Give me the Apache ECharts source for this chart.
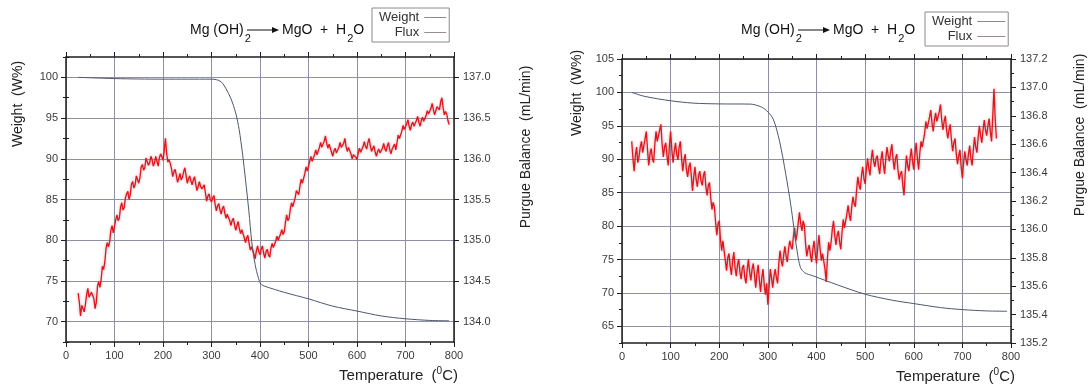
<!DOCTYPE html>
<html>
<head>
<meta charset="utf-8">
<script src="https://cdn.jsdelivr.net/npm/echarts@6/dist/echarts.min.js"></script>
<style>
  html, body { margin: 0; padding: 0; background: #fff; }
  #main { width: 1089px; height: 391px; }
</style>
</head>
<body>
<div id="main"></div>
<script>
// ---- data ----

// left panel: weight (W%) vs temperature
const weightAT = [25, 50, 100, 150, 200, 250, 300, 310, 320, 330, 340, 350, 357, 364, 370, 377, 383, 390, 397, 402, 410, 450, 500, 550, 600, 650, 700, 750, 790];
const weightAV = [100.0, 99.95, 99.85, 99.8, 99.78, 99.78, 99.78, 99.72, 99.45, 98.6, 97.4, 95.6, 93.6, 90.6, 87.5, 83.6, 79.8, 77.0, 75.3, 74.6, 74.35, 73.6, 72.8, 71.9, 71.3, 70.7, 70.35, 70.15, 70.1];

// left panel: purge flux (mL/min), one reading every 2.5 C from 25 C
const fluxAStart = 25;
const fluxAV = [
  134.35, 134.24, 134.07, 134.20, 134.19, 134.12, 134.21, 134.33, 134.41, 134.30, 134.29, 134.36, 134.32, 134.28, 134.16, 134.24, 134.44, 134.49, 134.42, 134.52,
  134.68, 134.64, 134.73, 134.90, 134.97, 134.92, 134.98, 135.12, 135.18, 135.09, 135.11, 135.25, 135.31, 135.24, 135.27, 135.41, 135.46, 135.37, 135.40, 135.52,
  135.57, 135.60, 135.50, 135.56, 135.69, 135.72, 135.64, 135.68, 135.79, 135.81, 135.70, 135.77, 135.90, 135.93, 135.86, 135.89, 136.01, 136.00, 135.92, 135.95,
  136.03, 135.99, 135.91, 135.95, 136.03, 135.97, 135.91, 136.01, 136.06, 136.03, 135.98, 136.10, 136.25, 136.07, 135.96, 135.99, 135.94, 135.88, 135.78, 135.84,
  135.87, 135.80, 135.71, 135.76, 135.82, 135.74, 135.77, 135.84, 135.89, 135.80, 135.70, 135.75, 135.79, 135.73, 135.68, 135.74, 135.78, 135.69, 135.61, 135.66,
  135.72, 135.66, 135.63, 135.62, 135.68, 135.58, 135.48, 135.54, 135.57, 135.50, 135.47, 135.52, 135.55, 135.44, 135.36, 135.42, 135.45, 135.37, 135.32, 135.39,
  135.42, 135.33, 135.27, 135.32, 135.34, 135.24, 135.18, 135.24, 135.27, 135.19, 135.12, 135.18, 135.23, 135.14, 135.08, 135.13, 135.14, 135.03, 134.97, 135.03,
  135.06, 134.96, 134.88, 134.92, 134.91, 134.83, 134.77, 134.87, 134.93, 134.86, 134.82, 134.89, 134.93, 134.84, 134.78, 134.86, 134.89, 134.82, 134.79, 134.90,
  134.96, 134.91, 134.89, 134.99, 135.05, 135.00, 134.98, 135.08, 135.13, 135.07, 135.10, 135.22, 135.31, 135.24, 135.27, 135.38, 135.46, 135.41, 135.42, 135.52,
  135.61, 135.62, 135.56, 135.67, 135.75, 135.70, 135.71, 135.82, 135.90, 135.85, 135.86, 135.97, 136.03, 135.97, 135.96, 136.05, 136.11, 136.05, 136.04, 136.14,
  136.20, 136.14, 136.13, 136.22, 136.28, 136.19, 136.13, 136.18, 136.17, 136.08, 136.03, 136.10, 136.13, 136.07, 136.05, 136.14, 136.20, 136.14, 136.12, 136.19,
  136.25, 136.15, 136.09, 136.14, 136.16, 136.06, 136.00, 136.05, 136.07, 136.02, 135.99, 136.07, 136.13, 136.08, 136.06, 136.15, 136.21, 136.15, 136.12, 136.20,
  136.25, 136.16, 136.09, 136.13, 136.16, 136.08, 136.03, 136.09, 136.12, 136.07, 136.05, 136.13, 136.19, 136.12, 136.09, 136.16, 136.20, 136.11, 136.06, 136.12,
  136.14, 136.18, 136.11, 136.20, 136.29, 136.25, 136.24, 136.34, 136.41, 136.36, 136.34, 136.43, 136.48, 136.40, 136.35, 136.42, 136.45, 136.40, 136.38, 136.47,
  136.52, 136.45, 136.40, 136.47, 136.51, 136.46, 136.44, 136.53, 136.59, 136.55, 136.53, 136.62, 136.68, 136.60, 136.54, 136.59, 136.64, 136.66, 136.60, 136.70,
  136.75, 136.63, 136.54, 136.58, 136.55, 136.47, 136.42
];

// right panel: weight (W%) vs temperature
const weightBT = [20, 47, 100, 146, 200, 264, 284, 297, 311, 324, 337, 347, 353, 360, 367, 376, 391, 443, 500, 556, 600, 655, 700, 750, 792];
const weightBV = [100, 99.4, 98.75, 98.4, 98.28, 98.25, 97.9, 97.3, 96.0, 92.7, 87.7, 83.2, 80.0, 76.3, 73.8, 73.0, 72.6, 71.2, 69.8, 68.9, 68.4, 67.8, 67.5, 67.3, 67.25];

// right panel: purge flux (mL/min), one reading every 2.5 C from 20 C
const fluxBStart = 20;
const fluxBV = [
  136.62, 136.50, 136.41, 136.52, 136.58, 136.47, 136.51, 136.58, 136.62, 136.54, 136.55, 136.64, 136.69, 136.56, 136.45, 136.53, 136.57, 136.50, 136.47, 136.60,
  136.69, 136.62, 136.61, 136.70, 136.74, 136.60, 136.51, 136.58, 136.61, 136.52, 136.45, 136.59, 136.69, 136.56, 136.47, 136.55, 136.61, 136.53, 136.49, 136.58,
  136.62, 136.50, 136.41, 136.49, 136.53, 136.42, 136.37, 136.44, 136.47, 136.38, 136.27, 136.37, 136.44, 136.35, 136.30, 136.38, 136.41, 136.34, 136.31, 136.38,
  136.41, 136.30, 136.24, 136.31, 136.33, 136.22, 136.14, 136.19, 136.16, 136.05, 135.96, 136.04, 136.06, 135.93, 135.85, 135.92, 135.91, 135.78, 135.71, 135.80,
  135.83, 135.74, 135.68, 135.78, 135.84, 135.73, 135.67, 135.75, 135.79, 135.70, 135.65, 135.73, 135.75, 135.66, 135.62, 135.72, 135.79, 135.70, 135.64, 135.72,
  135.76, 135.68, 135.59, 135.69, 135.75, 135.64, 135.56, 135.66, 135.72, 135.61, 135.54, 135.62, 135.47, 135.60, 135.72, 135.66, 135.59, 135.67, 135.72, 135.66,
  135.62, 135.76, 135.85, 135.78, 135.74, 135.82, 135.88, 135.81, 135.77, 135.86, 135.92, 135.88, 135.86, 135.95, 136.01, 135.92, 135.97, 136.05, 136.12, 136.04,
  135.99, 136.06, 136.03, 135.90, 135.81, 135.86, 135.89, 135.82, 135.77, 135.86, 135.92, 135.83, 135.76, 135.87, 135.96, 135.86, 135.78, 135.83, 135.84, 135.72,
  135.63, 135.80, 135.91, 135.85, 135.91, 136.00, 136.06, 135.96, 135.89, 135.96, 135.99, 135.91, 135.86, 135.98, 136.07, 136.01, 136.02, 136.11, 136.17, 136.10,
  136.06, 136.16, 136.23, 136.18, 136.16, 136.28, 136.37, 136.31, 136.28, 136.38, 136.44, 136.36, 136.32, 136.42, 136.50, 136.43, 136.38, 136.49, 136.56, 136.48,
  136.44, 136.50, 136.52, 136.44, 136.39, 136.49, 136.55, 136.46, 136.39, 136.50, 136.58, 136.52, 136.48, 136.55, 136.60, 136.49, 136.42, 136.50, 136.53, 136.42,
  136.35, 136.39, 136.41, 136.31, 136.24, 136.40, 136.52, 136.45, 136.41, 136.50, 136.57, 136.48, 136.42, 136.53, 136.61, 136.50, 136.42, 136.54, 136.62, 136.58,
  136.57, 136.68, 136.76, 136.71, 136.70, 136.79, 136.84, 136.75, 136.69, 136.77, 136.82, 136.76, 136.75, 136.83, 136.88, 136.77, 136.70, 136.76, 136.80, 136.70,
  136.64, 136.70, 136.74, 136.63, 136.55, 136.61, 136.64, 136.53, 136.46, 136.52, 136.56, 136.44, 136.36, 136.47, 136.55, 136.49, 136.45, 136.53, 136.59, 136.50,
  136.45, 136.56, 136.65, 136.58, 136.54, 136.65, 136.73, 136.66, 136.61, 136.70, 136.77, 136.70, 136.66, 136.73, 136.78, 136.69, 136.62, 136.80, 136.99, 136.78,
  136.64
];
const fluxStep = 2.5;

// tick labels
const weightTicksA = [70, 75, 80, 85, 90, 95, 100];
const purgeTicksA = [134.0, 134.5, 135.0, 135.5, 136.0, 136.5, 137.0];
const weightTicksB = [65, 70, 75, 80, 85, 90, 95, 100, 105];

// ---- styling ----
const FONT = '"Liberation Sans", Arial, sans-serif';
const FRAME = '#1e1e1e';
const GRIDLINE = '#8f90a4';
const WEIGHT_COLOR = '#4d586c';
const FLUX_COLOR = '#e3141b';
const LABEL = { fontSize: 11, color: '#3a3a3a', fontFamily: FONT };

const pairs = (xs, ys) => xs.map((x, i) => [x, ys[i]]);
const stepped = (start, ys) => ys.map((y, i) => [start + i * fluxStep, y]);

function tempAxis(grid, pos) {
  const bottom = pos === 'bottom';
  return {
    type: 'value', gridIndex: grid, position: pos, min: 0, max: 800, interval: 100,
    axisLine: { show: true, onZero: false, lineStyle: { color: FRAME, width: 1.5 } },
    axisTick: { show: true, length: 5, lineStyle: { color: FRAME } },
    minorTick: { show: true, splitNumber: 2, length: 3, lineStyle: { color: FRAME } },
    axisLabel: Object.assign({ show: bottom, margin: 8 }, LABEL),
    splitLine: { show: bottom, lineStyle: { color: GRIDLINE, width: 1 } },
    name: bottom ? 'Temperature  ({sup|0}C)' : '',
    nameLocation: 'end', nameGap: 4,
    nameTextStyle: {
      fontSize: 15, color: '#222', fontFamily: FONT, align: 'right', verticalAlign: 'top',
      padding: [24, 0, 0, 0],
      rich: { sup: { fontSize: 10, fontFamily: FONT, color: '#222', padding: [0, 0, 10, 0] } }
    }
  };
}

// a value axis carrying labelled major ticks
function majorAxis(grid, pos, min, max, ticks, fmt, gridLines) {
  return {
    type: 'value', gridIndex: grid, position: pos, min: min, max: max, splitNumber: ticks.length,
    axisLine: { show: true, onZero: false, lineStyle: { color: FRAME, width: 1.5 } },
    axisTick: { show: true, length: 5, customValues: ticks, lineStyle: { color: FRAME } },
    axisLabel: Object.assign({ customValues: ticks, margin: pos === 'left' ? 8 : 9, formatter: fmt }, LABEL),
    splitLine: { show: gridLines, lineStyle: { color: GRIDLINE, width: 1 } }
  };
}

// an unlabelled axis on the same side that only draws the half-step ticks
function minorAxis(grid, pos, min, max, step) {
  return {
    type: 'value', gridIndex: grid, position: pos, min: min, max: max, interval: step,
    axisLine: { show: false }, axisLabel: { show: false }, splitLine: { show: false },
    axisTick: { show: true, length: 3, lineStyle: { color: FRAME } }
  };
}

function title(x0) {
  const rich = {
    m: { fontSize: 14, fontFamily: FONT, fill: '#111' },
    s: { fontSize: 11, fontFamily: FONT, fill: '#111', padding: [18, 0, 0, 1] }
  };
  return [
    { type: 'text', x: x0, y: 30, style: { text: '{m|Mg (OH)}{s|2}', rich: rich, align: 'left', verticalAlign: 'middle' } },
    { type: 'line', shape: { x1: x0 + 57, y1: 30, x2: x0 + 84, y2: 30 }, style: { stroke: '#111', lineWidth: 1 } },
    { type: 'polygon', shape: { points: [[x0 + 82, 27], [x0 + 89, 30], [x0 + 82, 33]] }, style: { fill: '#111' } },
    { type: 'text', x: x0 + 92, y: 30, style: { text: '{m|MgO  +  H}{s|2}{m|O}', rich: rich, align: 'left', verticalAlign: 'middle' } }
  ];
}

function vname(x, y, text) {
  return {
    type: 'text', x: x, y: y, rotation: Math.PI / 2,
    style: { text: text, fontSize: 14, fontFamily: FONT, fill: '#222', align: 'center', verticalAlign: 'middle' }
  };
}

function legend(left, top, lineLen) {
  return {
    left: left, top: top, orient: 'vertical', align: 'right', selectedMode: false,
    icon: 'rect', itemWidth: lineLen, itemHeight: 1, itemGap: 2,
    padding: [3, 3, 3, 7], borderColor: '#8a8a8a', borderWidth: 1,
    textStyle: { fontSize: 13, color: '#333', fontFamily: FONT },
    data: [
      { name: 'Weight', itemStyle: { color: '#8a8a94' } },
      { name: 'Flux', itemStyle: { color: '#9a8c90' } }
    ]
  };
}

const fluxFmt1 = v => v.toFixed(1);
const fluxLine = { color: FLUX_COLOR, width: 1.3, shadowColor: 'rgba(170,110,120,0.6)', shadowBlur: 3 };

const chart = echarts.init(document.getElementById('main'), null, { renderer: 'canvas' });
chart.setOption({
  animation: false,
  backgroundColor: '#fff',
  grid: [
    { left: 66, top: 57, width: 388, height: 285 },
    { left: 622, top: 59, width: 389, height: 284 }
  ],
  legend: [legend(372, 8, 22), legend(925, 12, 28)],
  xAxis: [
    tempAxis(0, 'bottom'), tempAxis(0, 'top'),
    tempAxis(1, 'bottom'), tempAxis(1, 'top')
  ],
  yAxis: [
    majorAxis(0, 'left', 67.5, 102.5, weightTicksA, v => v, true),
    minorAxis(0, 'left', 67.5, 102.5, 5),
    majorAxis(0, 'right', 133.75, 137.25, purgeTicksA, fluxFmt1, false),
    minorAxis(0, 'right', 133.75, 137.25, 0.5),
    majorAxis(1, 'left', 62.5, 105, weightTicksB, v => v, true),
    minorAxis(1, 'left', 62.5, 105, 5),
    {
      type: 'value', gridIndex: 1, position: 'right', min: 135.2, max: 137.2, interval: 0.2,
      axisLine: { show: true, onZero: false, lineStyle: { color: FRAME, width: 1.5 } },
      axisTick: { show: true, length: 5, lineStyle: { color: FRAME } },
      minorTick: { show: true, splitNumber: 2, length: 3, lineStyle: { color: FRAME } },
      axisLabel: Object.assign({ margin: 9, formatter: fluxFmt1 }, LABEL),
      splitLine: { show: false }
    }
  ],
  series: [
    { name: 'Flux', type: 'line', xAxisIndex: 0, yAxisIndex: 2, data: stepped(fluxAStart, fluxAV),
      showSymbol: false, lineStyle: fluxLine, itemStyle: { color: FLUX_COLOR } },
    { name: 'Weight', type: 'line', xAxisIndex: 0, yAxisIndex: 0, data: pairs(weightAT, weightAV),
      showSymbol: false, smooth: 0.3, lineStyle: { color: WEIGHT_COLOR, width: 1 }, itemStyle: { color: WEIGHT_COLOR } },
    { name: 'Flux', type: 'line', xAxisIndex: 2, yAxisIndex: 6, data: stepped(fluxBStart, fluxBV),
      showSymbol: false, lineStyle: fluxLine, itemStyle: { color: FLUX_COLOR } },
    { name: 'Weight', type: 'line', xAxisIndex: 2, yAxisIndex: 4, data: pairs(weightBT, weightBV),
      showSymbol: false, smooth: 0.3, lineStyle: { color: WEIGHT_COLOR, width: 1 }, itemStyle: { color: WEIGHT_COLOR } }
  ],
  graphic: [].concat(
    title(190),
    title(741),
    [
      vname(18, 104, 'Weight  (W%)'),
      vname(526, 147, 'Purgue Balance  (mL/min)'),
      vname(577, 93, 'Weight  (W%)'),
      vname(1080, 135, 'Purgue Balance  (mL/min)')
    ]
  )
});
</script>
</body>
</html>
